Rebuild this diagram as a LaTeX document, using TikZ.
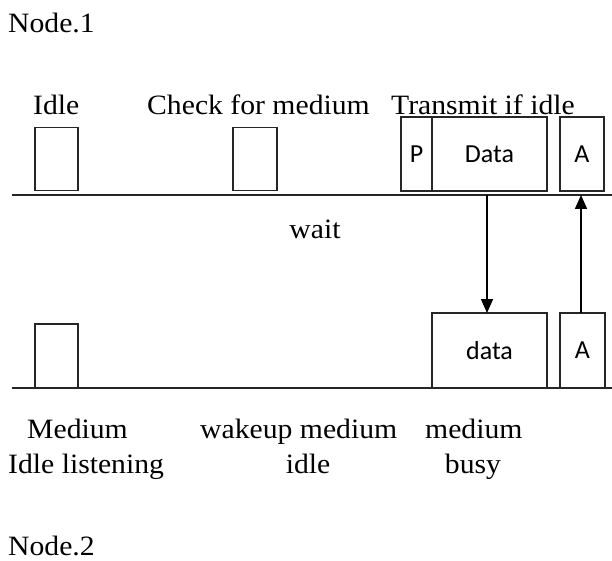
\documentclass[tikz,border=0pt]{standalone}
\usepackage{fontspec}
\setmainfont{Liberation Serif}[FakeStretch=1.06]
\newfontfamily\boxfont{Carlito}
\usetikzlibrary{arrows.meta}

\tikzset{
  lbl/.style={inner sep=0pt, anchor=base west, font=\fontsize{28}{33}\selectfont},
  clbl/.style={lbl, anchor=base},
  frame/.style={draw=black!85, line width=1.2pt, inner sep=0pt, outer sep=0pt,
                font=\boxfont\fontsize{26}{30}\selectfont},
  medium/.style={draw=black!85, line width=1.5pt},
  msg/.style={draw=black, line width=1.6pt, -{Triangle[length=14pt,width=12pt]}}
}

\begin{document}
\begin{tikzpicture}[x=1pt, y=-1pt]
  \useasboundingbox (0,0) rectangle (612,561);

  % node 1 timeline
  \node[lbl] (n1) at (8,33) {Node.1};
  \coordinate (t0) at (12,195);
  \coordinate (t1) at (612,195);
  \draw[medium] (t0) -- (t1);

  \node[lbl] (lidle) at (33,115) {Idle};
  \node[lbl] (lcheck) at (147,115) {Check for medium};
  \node[lbl] (ltx) at (391,115) {Transmit if idle};

  \node[frame, minimum width=43pt, minimum height=63pt] (bidle) at (56.5,159) {};
  \node[frame, minimum width=44pt, minimum height=63pt] (bcheck) at (255,159) {};
  \node[frame, minimum width=31pt, minimum height=74pt] (bp) at (416.5,154) {P};
  \node[frame, minimum width=115pt, minimum height=74pt] (bdata) at (489.5,154) {Data};
  \node[frame, minimum width=44pt, minimum height=74pt] (ba) at (582,154) {A};

  \node[clbl] (lwait) at (315,238) {wait};

  % node 2 timeline
  \coordinate (u0) at (12,388);
  \coordinate (u1) at (612,388);
  \draw[medium] (u0) -- (u1);

  \node[frame, minimum width=43pt, minimum height=64pt] (cidle) at (56.5,356) {};
  \node[frame, minimum width=115pt, minimum height=75pt] (cdata) at (489.5,350.5) {data};
  \node[frame, minimum width=45pt, minimum height=75pt] (ca) at (582.5,350.5) {A};

  \node[lbl] (lmed) at (27,438) {Medium};
  \node[lbl] (llisten) at (8,473) {Idle listening};
  \node[lbl] (lwake) at (200,438) {wakeup medium};
  \node[clbl] (lidle2) at (308,473) {idle};
  \node[lbl] (lmed2) at (425,438) {medium};
  \node[clbl] (lbusy) at (473,473) {busy};
  \node[lbl] (n2) at (8,555) {Node.2};

  % data frame sent down, acknowledgement sent back up
  \coordinate (dsrc) at ([xshift=-2.5pt]bdata.south |- t0);
  \draw[msg] (dsrc) -- (dsrc |- cdata.north);
  \coordinate (asrc) at ([xshift=-1.5pt]ca.north);
  \draw[msg] (asrc) -- (asrc |- t0);
\end{tikzpicture}
\end{document}
